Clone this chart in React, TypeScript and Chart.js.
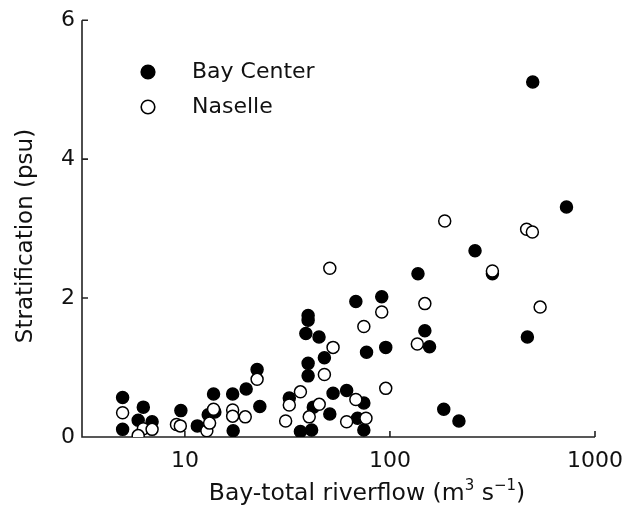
import { useEffect, useRef } from "react";
import { Chart, registerables } from "chart.js";

Chart.register(...registerables);

// Bay Center stations: bay-total riverflow (m3/s) and stratification (psu)
const bayCenterFlow = [
  4.97, 4.97, 6.27, 5.92, 6.92, 9.56, 11.5, 13.0, 14.0, 13.8, 17.1, 17.2, 19.9,
  22.5, 23.2, 32.3, 36.6, 41.5, 42.3, 39.9, 39.9, 38.9, 45.1, 47.9, 39.9, 39.9,
  52.8, 61.5, 50.9, 69.5, 74.6, 74.6, 68.2, 91.2, 76.9, 95.4, 137, 148, 156,
  260, 316, 497, 726, 468, 183, 217,
];
const bayCenterStrat = [
  0.57, 0.11, 0.43, 0.24, 0.22, 0.38, 0.16, 0.32, 0.36, 0.62, 0.62, 0.09, 0.69,
  0.97, 0.44, 0.56, 0.08, 0.1, 0.43, 1.75, 1.68, 1.49, 1.44, 1.14, 1.06, 0.88,
  0.63, 0.67, 0.33, 0.27, 0.49, 0.1, 1.95, 2.02, 1.22, 1.29, 2.35, 1.53, 1.3,
  2.68, 2.35, 5.11, 3.31, 1.44, 0.4, 0.23,
];

// Naselle stations
const naselleFlow = [
  4.97, 6.27, 5.92, 6.92, 9.1, 9.5, 12.8, 13.2, 13.8, 17.1, 17.1, 19.7, 22.5,
  31.0, 32.3, 36.6, 40.4, 45.2, 47.9, 52.8, 50.9, 68.2, 61.5, 76.4, 74.6, 91.2,
  95.4, 136, 148, 185, 316, 464, 495, 540,
];
const naselleStrat = [
  0.35, 0.12, 0.02, 0.11, 0.18, 0.16, 0.09, 0.2, 0.4, 0.39, 0.3, 0.29, 0.83,
  0.23, 0.46, 0.65, 0.29, 0.47, 0.9, 1.29, 2.43, 0.54, 0.22, 0.27, 1.59, 1.8,
  0.7, 1.34, 1.92, 3.11, 2.39, 2.99, 2.95, 1.87,
];

const seriesNames = ["Bay Center", "Naselle"];
const xTickValues = [10, 100, 1000];
const yTickValues = [0, 2, 4, 6];
const yTitle = "Stratification (psu)";

const FONT = "'DejaVu Sans', sans-serif";
const INK = "#111";

const toPoints = (xs: number[], ys: number[]) =>
  xs.map((v, i) => ({ x: v, y: ys[i] }));

// axis frame with inward ticks, drawn beneath the markers
const framePlugin = {
  id: "frame",
  beforeDatasetsDraw(chart: any) {
    const { ctx, chartArea, scales } = chart;
    const { left, right, top, bottom } = chartArea;
    ctx.save();
    ctx.strokeStyle = "#222";
    ctx.lineWidth = 1.6;
    ctx.beginPath();
    ctx.moveTo(left, top);
    ctx.lineTo(left, bottom);
    ctx.lineTo(right, bottom);
    for (const v of yTickValues) {
      const py = scales.y.getPixelForValue(v);
      ctx.moveTo(left, py);
      ctx.lineTo(left + 6, py);
    }
    for (const v of xTickValues) {
      const px = scales.x.getPixelForValue(v);
      ctx.moveTo(px, bottom);
      ctx.lineTo(px, bottom - 6);
    }
    ctx.stroke();
    ctx.restore();
  },
};

// axis titles and the in-plot key
const labelsPlugin = {
  id: "labels",
  afterDraw(chart: any) {
    const { ctx } = chart;
    ctx.save();
    ctx.fillStyle = INK;
    ctx.textBaseline = "middle";

    // x-axis title with superscript units
    const parts: [string, boolean][] = [
      ["Bay-total riverflow (m", false],
      ["3", true],
      [" s", false],
      ["\u22121", true],
      [")", false],
    ];
    const title = `23.5px ${FONT}`;
    const small = `15px ${FONT}`;
    let total = 0;
    for (const [t, sup] of parts) {
      ctx.font = sup ? small : title;
      total += ctx.measureText(t).width;
    }
    let cx = 367 - total / 2;
    const cy = 494;
    ctx.textAlign = "left";
    for (const [t, sup] of parts) {
      ctx.font = sup ? small : title;
      ctx.fillText(t, cx, sup ? cy - 8 : cy);
      cx += ctx.measureText(t).width;
    }

    // y-axis title
    ctx.save();
    ctx.translate(26, 236);
    ctx.rotate(-Math.PI / 2);
    ctx.textAlign = "center";
    ctx.font = `23px ${FONT}`;
    ctx.fillText(yTitle, 0, 0);
    ctx.restore();

    // key
    const rows = [
      { name: seriesNames[0], filled: true, y: 72 },
      { name: seriesNames[1], filled: false, y: 107 },
    ];
    for (const r of rows) {
      ctx.beginPath();
      ctx.arc(148, r.y, 6.8, 0, Math.PI * 2);
      ctx.fillStyle = r.filled ? "#000" : "#fff";
      ctx.fill();
      ctx.lineWidth = 1.6;
      ctx.strokeStyle = "#000";
      ctx.stroke();
      ctx.fillStyle = INK;
      ctx.font = `22px ${FONT}`;
      ctx.textAlign = "left";
      ctx.fillText(r.name, 192, r.y);
    }
    ctx.restore();
  },
};

export default function App() {
  const ref = useRef<HTMLCanvasElement | null>(null);

  useEffect(() => {
    if (!ref.current) return;
    const chart = new Chart(ref.current, {
      type: "scatter",
      data: {
        datasets: [
          {
            label: seriesNames[0],
            data: toPoints(bayCenterFlow, bayCenterStrat),
            backgroundColor: "#000",
            borderColor: "#000",
            borderWidth: 1.5,
            pointRadius: 6,
            order: 1,
          },
          {
            label: seriesNames[1],
            data: toPoints(naselleFlow, naselleStrat),
            backgroundColor: "#fff",
            borderColor: "#000",
            borderWidth: 1.5,
            pointRadius: 6,
            order: 0,
          },
        ],
      },
      options: {
        responsive: false,
        animation: false,
        devicePixelRatio: 1,
        layout: { padding: { left: 0, top: 18, right: 40, bottom: 0 } },
        plugins: {
          legend: { display: false },
          tooltip: { enabled: false },
        },
        scales: {
          x: {
            type: "logarithmic",
            min: 3.15,
            max: 1000,
            afterBuildTicks: (s: any) => {
              s.ticks = xTickValues.map((v) => ({ value: v }));
            },
            afterFit: (s: any) => {
              s.height = 77;
            },
            grid: { display: false, drawTicks: false },
            border: { display: false },
            ticks: {
              color: INK,
              font: { family: FONT, size: 22 },
              padding: 11,
              maxRotation: 0,
              autoSkip: false,
              callback: (v: any) => String(v),
            },
          },
          y: {
            min: 0,
            max: 6,
            afterBuildTicks: (s: any) => {
              s.ticks = yTickValues.map((v) => ({ value: v }));
            },
            afterFit: (s: any) => {
              s.width = 82;
            },
            grid: { display: false, drawTicks: false },
            border: { display: false },
            ticks: {
              color: INK,
              font: { family: FONT, size: 22 },
              padding: 7,
              callback: (v: any) => String(v),
            },
          },
        },
      },
      plugins: [framePlugin, labelsPlugin],
    });
    return () => chart.destroy();
  }, []);

  return (
    <div style={{ position: "absolute", left: 0, top: 0, width: 635, height: 514, background: "#fff" }}>
      <canvas ref={ref} width={635} height={514} />
    </div>
  );
}
